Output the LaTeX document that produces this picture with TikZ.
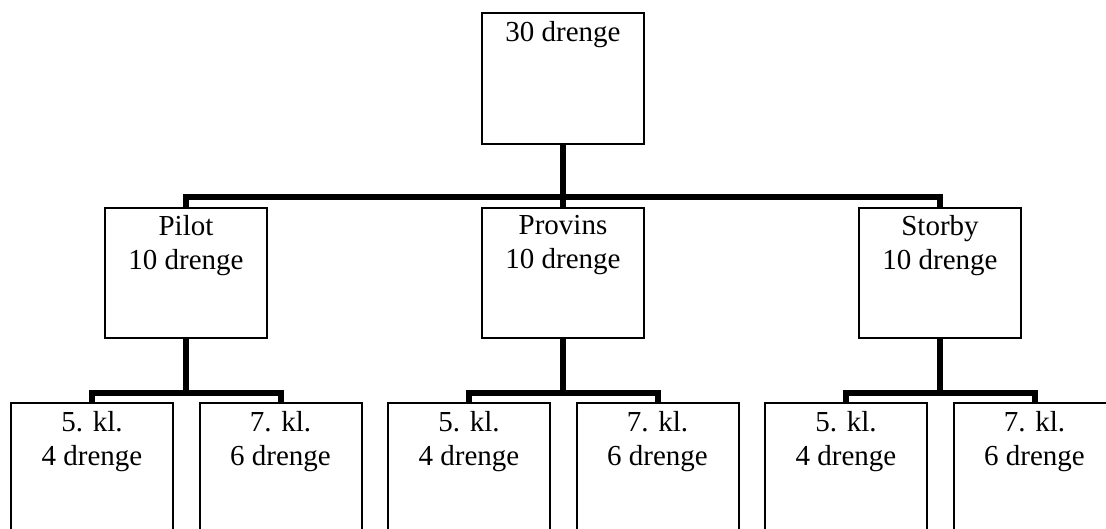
\documentclass[tikz,border=0pt]{standalone}
\usepackage{fontspec}
\setmainfont{Liberation Serif}
\begin{document}
\begin{tikzpicture}[x=1pt,y=-1pt,
  box/.style={draw=black, line width=2pt, minimum width=162pt, minimum height=130pt, inner sep=0pt},
  lbl/.style={inner sep=0pt, align=center, anchor=north, font=\fontsize{29}{34}\selectfont},
  bus/.style={draw=black, line width=6pt, line join=miter}]
\useasboundingbox (0,0) rectangle (1106,528);
\clip (0,0) rectangle (1106,528);
% top level
\node[box, minimum height=131pt] (top) at (563,78.5) {};
% second level
\node[box] (pilot)   at (186,273) {};
\node[box] (provins) at (563,273) {};
\node[box] (storby)  at (940,273) {};
% third level
\node[box] (pa) at (92,468)   {};
\node[box] (pb) at (280.5,468) {};
\node[box] (va) at (469,468)  {};
\node[box] (vb) at (657.5,468) {};
\node[box] (sa) at (846,468)  {};
\node[box] (sb) at (1034.5,468) {};
% texts
\node[lbl] (ttop) at ([yshift=-9.5pt]top.north) {30 drenge};
\node[lbl] (tpilot) at ([yshift=-8pt]pilot.north) {Pilot\\10 drenge};
\node[lbl] (tprovins) at ([yshift=-8pt]provins.north) {Provins\\10 drenge};
\node[lbl] (tstorby) at ([yshift=-8pt]storby.north) {Storby\\10 drenge};
\node[lbl] (tpa) at ([yshift=-9.5pt]pa.north) {5. kl.\\4 drenge};
\node[lbl] (tpb) at ([yshift=-9.5pt]pb.north) {7. kl.\\6 drenge};
\node[lbl] (tva) at ([yshift=-9.5pt]va.north) {5. kl.\\4 drenge};
\node[lbl] (tvb) at ([yshift=-9.5pt]vb.north) {7. kl.\\6 drenge};
\node[lbl] (tsa) at ([yshift=-9.5pt]sa.north) {5. kl.\\4 drenge};
\node[lbl] (tsb) at ([yshift=-9.5pt]sb.north) {7. kl.\\6 drenge};
% junctions
\coordinate (j0) at (563,197);
\coordinate (jp) at (186,393);
\coordinate (jv) at (563,393);
\coordinate (js) at (940,393);
% connectors
\draw[bus] (top.south) -- (j0);
\draw[bus] (pilot.north) |- (j0) -| (storby.north);
\draw[bus] (j0) -- (provins.north);
\draw[bus] (pilot.south) -- (jp);
\draw[bus] (pa.north) |- (jp) -| (pb.north);
\draw[bus] (provins.south) -- (jv);
\draw[bus] (va.north) |- (jv) -| (vb.north);
\draw[bus] (storby.south) -- (js);
\draw[bus] (sa.north) |- (js) -| (sb.north);
\end{tikzpicture}
\end{document}
